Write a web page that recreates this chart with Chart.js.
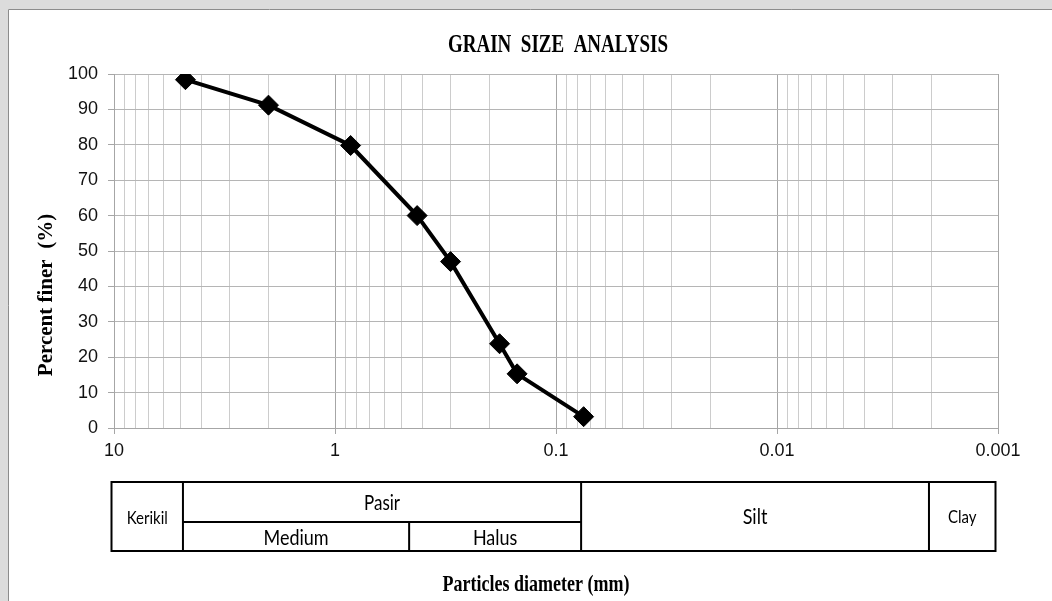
<!DOCTYPE html>
<html>
<head>
<meta charset="utf-8">
<script src="https://cdn.jsdelivr.net/npm/chart.js@4/dist/chart.umd.min.js"></script>
<style>
  html, body { margin: 0; padding: 0; background: #fff; }
  #wrap { width: 1052px; height: 601px; position: relative; }
</style>
</head>
<body>
<div id="wrap"><canvas id="grain" width="1052" height="601"></canvas></div>
<script>
// sieve results: grain diameter (mm) vs percent passing
const diameters = [4.75, 2.0, 0.85, 0.425, 0.3, 0.18, 0.15, 0.075];
const percentFiner = [98.4, 91.2, 79.8, 60.0, 47.0, 23.8, 15.3, 3.2];

// axis ranges / labels
const decadeLabels = ['10', '1', '0.1', '0.01', '0.001'];
const yTicks = [0, 10, 20, 30, 40, 50, 60, 70, 80, 90, 100];

// soil classification strip under the axis (boundaries in mm)
const classBounds = [10, 4.75, 0.45, 0.075, 0.002, 0.001];
const classNames = ['Kerikil', 'Pasir', 'Silt', 'Clay'];
const sandNames = ['Medium', 'Halus'];

const isDecade = v => Math.abs(Math.log10(v) - Math.round(Math.log10(v))) < 1e-6;

function logTicks(min, max) {
  const out = [];
  for (let e = Math.round(Math.log10(min)); e < Math.round(Math.log10(max)); e++) {
    for (let m = 1; m < 10; m++) out.push(Number((m * Math.pow(10, e)).toPrecision(3)));
  }
  out.push(max);
  return out;
}

// text drawn a bit taller than wide, like the exported sheet
function tallText(ctx, text, x, y, font, sy) {
  ctx.save();
  ctx.translate(x, y);
  ctx.scale(1, sy);
  ctx.font = font;
  ctx.fillText(text, 0, 0);
  ctx.restore();
}

const frame = {
  id: 'frame',
  beforeDraw(chart) {
    const {ctx, width, height} = chart;
    ctx.save();
    ctx.fillStyle = '#dcdcdc';
    ctx.fillRect(0, 0, width, height);
    ctx.fillStyle = '#ffffff';
    ctx.fillRect(8, 9, width - 8, height - 9);
    ctx.strokeStyle = '#8c8c8c';
    ctx.lineWidth = 1;
    ctx.beginPath();
    ctx.moveTo(8.5, height);
    ctx.lineTo(8.5, 9.5);
    ctx.lineTo(width, 9.5);
    ctx.stroke();
    ctx.restore();
  }
};

const labels = {
  id: 'labels',
  afterDraw(chart) {
    const {ctx} = chart;
    const x = chart.scales.x;
    ctx.save();
    ctx.fillStyle = '#000';
    ctx.textAlign = 'center';
    ctx.textBaseline = 'middle';

    tallText(ctx, 'GRAIN  SIZE  ANALYSIS', 558, 45, 'bold 19px "Liberation Serif"', 1.35);
    tallText(ctx, 'Particles diameter (mm)', 536, 585, 'bold 18px "Liberation Serif"', 1.25);

    ctx.save();
    ctx.translate(47, 295);
    ctx.rotate(-Math.PI / 2);
    ctx.font = 'bold 21px "Liberation Serif"';
    ctx.fillText('Percent finer  (%)', 0, 0);
    ctx.restore();

    // classification table
    const px = classBounds.map(v => x.getPixelForValue(v) - 2.5);
    const top = 482, mid = 522, bot = 551;
    ctx.strokeStyle = '#000';
    ctx.lineWidth = 2;
    ctx.strokeRect(px[0], top, px[5] - px[0], bot - top);
    ctx.beginPath();
    [1, 3, 4].forEach(i => { ctx.moveTo(px[i], top); ctx.lineTo(px[i], bot); });
    ctx.moveTo(px[1], mid); ctx.lineTo(px[3], mid);
    ctx.moveTo(px[2], mid); ctx.lineTo(px[2], bot);
    ctx.stroke();

    tallText(ctx, classNames[0], (px[0] + px[1]) / 2, 518, '15px Lato', 1.2);
    tallText(ctx, classNames[3], (px[4] + px[5]) / 2, 517, '15px Lato', 1.2);
    tallText(ctx, classNames[1], (px[1] + px[3]) / 2, 503, '17px Lato', 1.2);
    tallText(ctx, classNames[2], (px[3] + px[4]) / 2, 517, '18px Lato', 1.2);
    tallText(ctx, sandNames[0], (px[1] + px[2]) / 2, 538, '18px Lato', 1.2);
    tallText(ctx, sandNames[1], (px[2] + px[3]) / 2, 538, '18px Lato', 1.2);
    ctx.restore();
  }
};

new Chart(document.getElementById('grain'), {
  type: 'line',
  data: {
    datasets: [{
      data: diameters.map((d, i) => ({x: d, y: percentFiner[i]})),
      borderColor: '#000',
      backgroundColor: '#000',
      borderWidth: 4,
      pointStyle: 'rectRot',
      pointRadius: 10,
      pointBorderWidth: 1,
      tension: 0
    }]
  },
  options: {
    responsive: false,
    animation: false,
    devicePixelRatio: 1,
    layout: {padding: {left: 0, top: 74, right: 54, bottom: 0}},
    plugins: {legend: {display: false}, tooltip: {enabled: false}, title: {display: false}},
    scales: {
      x: {
        type: 'logarithmic',
        reverse: true,
        min: 0.001,
        max: 10,
        afterBuildTicks: s => { s.ticks = logTicks(0.001, 10).map(v => ({value: v})); },
        afterFit: s => { s.height = 173; },
        grid: {
          color: c => isDecade(c.tick.value) ? '#a6a6a6' : '#cccccc',
          tickColor: c => isDecade(c.tick.value) ? '#a6a6a6' : 'rgba(0,0,0,0)',
          tickLength: 6,
          lineWidth: 1
        },
        border: {color: '#a6a6a6'},
        ticks: {
          autoSkip: false,
          maxRotation: 0,
          padding: 6,
          color: '#111',
          font: {family: '"Liberation Sans"', size: 18},
          callback: v => isDecade(v) ? decadeLabels[Math.round(1 - Math.log10(v))] : ''
        }
      },
      y: {
        min: yTicks[0],
        max: yTicks[yTicks.length - 1],
        afterFit: s => { s.width = 114; },
        grid: {color: '#b5b5b5', tickColor: '#a6a6a6', tickLength: 6},
        border: {color: '#a6a6a6'},
        ticks: {
          stepSize: 10,
          padding: 10,
          color: '#111',
          font: {family: '"Liberation Sans"', size: 18}
        }
      }
    }
  },
  plugins: [frame, labels]
});
</script>
</body>
</html>
